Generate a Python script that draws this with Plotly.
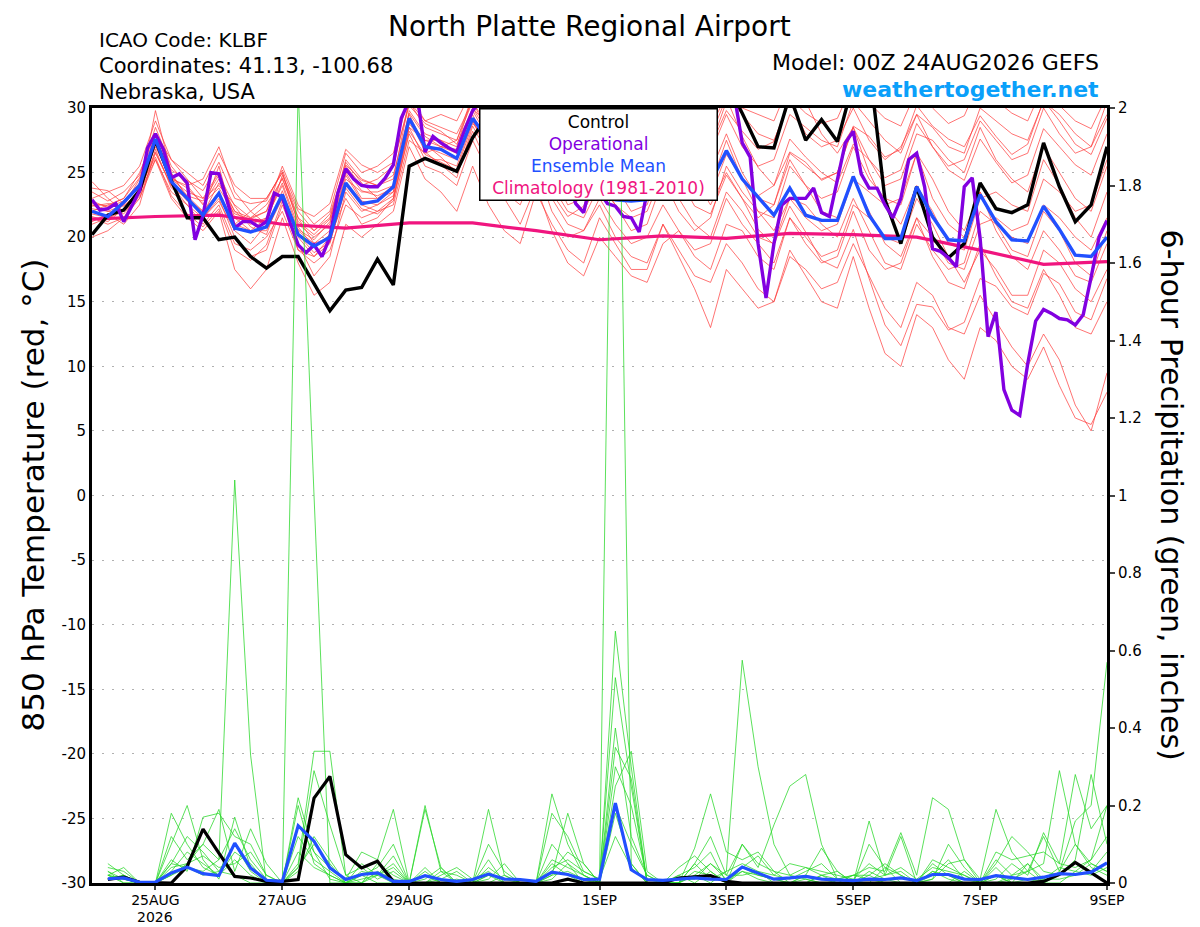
import pandas as pd
import plotly.graph_objects as go

# --- time axes -------------------------------------------------------------
start = "2026-08-24 00:00"
times_6h = pd.date_range(start, periods=65, freq="6h")
precip_times = times_6h[1:]
op_times = pd.date_range(start, periods=129, freq="3h")
clim_times = pd.date_range(start, periods=17, freq="D")

tick_dates = ["2026-08-25", "2026-08-27", "2026-08-29", "2026-09-01",
              "2026-09-03", "2026-09-05", "2026-09-07", "2026-09-09"]
tick_labels = ["25AUG", "27AUG", "29AUG", "1SEP",
               "3SEP", "5SEP", "7SEP", "9SEP"]
year_label = "2026"
temp_ticks = [-30, -25, -20, -15, -10, -5, 0, 5, 10, 15, 20, 25, 30]

# --- 850 hPa temperature (C), 6-hourly ---------------------------------------
control_temp = [20.2, 21.7, 22.1, 23.6, 27.5,
                24.4, 21.5, 21.5, 19.8, 20.0, 18.5, 17.6, 18.5,
                18.5, 16.4, 14.3, 15.9, 16.1, 18.3, 16.3, 25.5,
                26.1, 25.6, 25.1, 27.7, 29.5, 30.5, 31.0, 32.0,
                31.5, 31.0, 30.5, 31.0, 30.5, 30.0, 30.5, 31.5,
                31.0, 30.5, 31.0, 32.0, 29.6, 27.0, 26.9, 31.0,
                27.5, 29.1, 27.4, 32.0, 33.5, 22.9, 19.5, 23.9,
                20.0, 18.4, 19.5, 24.2, 22.2, 21.9, 22.5, 27.3,
                23.9, 21.2, 22.5, 27.0]

mean_temp = [22.0, 21.6, 22.7, 24.0, 27.6,
             24.3, 23.0, 21.7, 23.4, 20.7, 20.4, 20.8, 23.3,
             20.2, 19.3, 20.0, 24.2, 22.6, 22.8, 23.9, 29.2,
             27.0, 26.8, 26.1, 29.2, 27.5, 26.5, 25.5, 27.0,
             25.0, 23.5, 23.0, 23.3, 22.9, 22.8, 22.9, 24.5,
             25.0, 24.5, 24.2, 26.7, 24.5, 23.1, 21.7, 23.8,
             21.7, 21.3, 21.3, 24.7, 21.7, 19.9, 19.9, 23.9,
             21.6, 19.8, 19.7, 23.3, 21.2, 19.8, 19.7, 22.4,
             20.6, 18.6, 18.5, 20.0]

# operational run, 3-hourly
oper_temp = [22.9, 22.1, 22.2, 22.6, 21.2, 22.4, 23.6, 26.9, 28.0, 26.8,
             24.6, 24.9, 24.2, 19.8, 21.7, 25.0, 24.9, 22.9, 20.7, 21.2,
             21.2, 20.8, 21.2, 23.4, 23.1, 21.1, 19.4, 18.8, 19.4, 18.5,
             20.0, 23.4, 25.3, 24.5, 24.0, 23.9, 23.9, 24.6, 25.6, 29.2,
             30.6, 31.0, 26.6, 27.8, 27.3, 26.9, 26.6, 28.3, 29.8,
             30.5, 31.0, 31.5, 31.0, 30.0, 29.0, 28.5, 29.0, 28.0, 27.0,
             26.0, 24.5, 22.6, 21.9, 24.5, 23.5, 22.6, 22.4, 21.6, 21.5,
             20.4, 23.5, 25.0, 26.5, 28.0, 29.0, 29.5, 30.5, 31.0, 31.5,
             31.5, 31.5, 31.0, 27.3, 26.2, 19.5, 15.3, 19.5, 22.5, 23.0,
             23.0, 23.0, 23.8, 21.9, 21.6, 24.4, 27.3, 28.2, 24.9, 23.8,
             23.8, 22.5, 21.5, 23.0, 26.0, 26.5, 23.9, 19.1, 18.9, 18.4,
             17.7, 23.9, 24.6, 19.9, 12.3, 14.2, 8.2, 6.6, 6.2, 10.2,
             13.5, 14.4, 14.1, 13.7, 13.6, 13.2, 14.0, 16.9, 20.0, 21.3]

# climatology (1981-2010), daily
clim_temp = [21.4, 21.6, 21.7, 21.0, 20.7, 21.1, 21.1, 20.5, 19.8,
             20.1, 19.9, 20.3, 20.2, 20.0, 19.0, 17.9, 18.1]

# ensemble members
t_m01 = [23.5, 22.8, 23.5, 24.8, 28.5, 25.5, 24.0, 22.5, 24.5, 22.0, 21.5, 22.5, 24.5,
         21.5, 20.5, 21.8, 25.5, 24.0, 24.5, 25.5, 30.5, 28.5, 28.0, 27.5, 31.0,
         29.5, 29.0, 28.5, 31.5, 28.0, 26.5, 27.0, 29.0, 28.5, 27.5, 28.0, 30.5,
         29.0, 28.0, 28.5, 31.0, 29.5, 28.0, 27.5, 30.5, 28.0, 27.0, 27.5, 30.0,
         27.5, 26.0, 27.0, 29.5, 27.0, 25.5, 26.0, 29.0, 27.5, 26.0, 26.5, 30.0,
         28.0, 26.5, 27.0, 30.5]
t_m02 = [21.0, 21.5, 22.0, 23.0, 26.0, 23.5, 22.5, 21.0, 22.5, 19.5, 19.0, 20.0, 22.0,
         19.0, 18.0, 19.0, 22.5, 21.5, 22.0, 23.0, 28.0, 25.5, 25.0, 24.0, 27.5,
         25.0, 23.5, 22.5, 25.5, 22.0, 20.0, 20.5, 23.0, 21.0, 19.5, 20.0, 22.5,
         20.5, 19.0, 19.5, 23.0, 21.0, 19.5, 18.0, 21.5, 19.5, 18.0, 18.5, 22.0,
         19.0, 17.5, 18.0, 21.5, 18.5, 16.5, 16.0, 19.5, 17.0, 15.0, 14.5, 17.5,
         15.5, 13.0, 12.5, 15.0]
t_m03 = [22.5, 22.0, 22.5, 24.5, 27.5, 24.5, 23.5, 23.0, 25.0, 21.5, 20.5, 21.5, 24.0,
         20.5, 19.5, 20.5, 25.0, 23.0, 23.0, 24.0, 29.5, 27.0, 26.5, 26.0, 29.5,
         27.0, 26.0, 25.0, 28.0, 24.0, 22.0, 21.5, 24.0, 22.5, 20.5, 21.0, 24.5,
         22.0, 20.5, 21.5, 25.5, 23.5, 22.0, 21.5, 25.5, 24.0, 23.0, 23.5, 27.0,
         24.5, 23.0, 22.5, 26.5, 23.0, 21.0, 20.0, 23.5, 20.5, 18.5, 17.5, 20.5,
         19.0, 17.0, 16.5, 19.5]
t_m04 = [21.5, 21.0, 21.5, 23.0, 26.5, 24.0, 22.5, 21.5, 23.0, 20.0, 18.5, 19.0, 22.5,
         19.5, 17.0, 18.5, 23.5, 22.0, 22.5, 23.5, 28.5, 26.0, 26.0, 25.5, 29.0,
         27.0, 25.5, 24.0, 26.5, 23.0, 21.0, 20.5, 22.5, 20.0, 18.5, 18.0, 21.0,
         19.0, 17.0, 16.5, 19.5, 18.0, 16.0, 15.0, 18.5, 17.5, 16.0, 16.5, 19.5,
         17.0, 14.5, 13.0, 16.5, 15.5, 13.0, 12.5, 15.5, 13.5, 11.5, 10.0, 12.5,
         10.5, 7.0, 5.0, 9.5]
t_m05 = [20.0, 20.5, 21.5, 23.5, 29.8, 25.0, 23.0, 22.0, 25.5, 21.0, 22.0, 23.0, 25.0,
         21.0, 20.0, 21.0, 26.0, 24.5, 24.0, 24.5, 30.5, 29.0, 29.5, 29.0, 31.5,
         30.5, 30.0, 29.5, 32.0, 30.5, 29.0, 29.5, 31.5, 30.0, 28.5, 27.5, 29.5,
         27.0, 25.5, 25.0, 28.0, 25.0, 23.0, 22.5, 26.0, 24.0, 22.0, 21.5, 24.5,
         22.0, 19.5, 18.5, 21.5, 20.0, 18.0, 17.5, 21.0, 21.5, 20.5, 21.0, 24.5,
         23.5, 22.0, 22.5, 26.0]
t_m06 = [24.3, 23.0, 22.0, 23.5, 26.0, 23.0, 21.5, 20.5, 22.0, 17.5, 16.0, 17.5, 21.5,
         18.0, 15.5, 16.5, 21.0, 20.0, 21.0, 22.0, 27.0, 24.5, 23.5, 22.0, 25.5,
         22.5, 20.5, 19.5, 23.5, 21.0, 19.0, 18.0, 21.5, 19.5, 17.5, 17.5, 21.0,
         18.5, 16.0, 13.0, 17.5, 16.0, 14.5, 15.0, 19.0, 17.0, 15.0, 14.5, 18.5,
         14.5, 11.0, 10.0, 14.0, 13.0, 10.5, 9.0, 13.0, 12.0, 10.0, 9.0, 11.5,
         8.5, 6.0, 5.5, 8.0]
t_m07 = [22.0, 22.5, 23.0, 25.0, 28.0, 26.0, 24.5, 23.0, 24.0, 22.5, 21.5, 22.0, 25.5,
         22.5, 21.0, 22.0, 26.5, 25.0, 25.5, 26.5, 31.0, 29.0, 28.5, 28.0, 30.5,
         28.0, 27.0, 26.0, 29.0, 26.5, 25.0, 24.0, 26.5, 25.0, 24.0, 25.5, 28.5,
         27.0, 26.0, 27.0, 30.5, 30.0, 29.5, 29.0, 32.0, 30.5, 28.0, 26.5, 28.5,
         26.0, 24.0, 24.5, 28.0, 27.5, 26.0, 25.0, 28.5, 26.0, 24.5, 23.5, 27.0,
         25.0, 23.0, 22.0, 25.5]
t_m08 = [21.8, 21.5, 22.5, 24.0, 27.0, 24.5, 24.0, 24.5, 27.0, 23.5, 22.0, 21.0, 23.0,
         20.0, 18.5, 19.5, 24.0, 22.5, 22.0, 22.5, 27.5, 26.5, 27.0, 27.5, 30.5,
         28.5, 27.5, 27.0, 30.0, 27.0, 25.5, 24.5, 27.5, 24.0, 22.0, 22.5, 26.0,
         24.5, 23.5, 24.0, 27.5, 24.5, 22.0, 20.5, 23.0, 21.5, 20.5, 21.0, 24.5,
         23.5, 22.5, 23.0, 26.5, 24.5, 22.0, 20.5, 23.5, 21.0, 19.0, 18.5, 22.0,
         20.5, 18.0, 17.0, 20.5]
t_m09 = [22.8, 22.3, 22.8, 24.2, 27.8, 24.8, 23.2, 22.0, 23.5, 21.0, 20.5, 20.5, 23.0,
         19.0, 18.5, 20.0, 24.5, 23.5, 23.5, 24.0, 29.0, 27.5, 27.0, 26.5, 30.0,
         28.0, 27.0, 26.5, 29.5, 26.0, 23.5, 22.0, 24.5, 22.5, 21.5, 22.0, 25.0,
         23.0, 21.0, 20.0, 23.5, 22.0, 20.0, 19.5, 23.0, 22.5, 21.0, 20.0, 23.0,
         20.5, 18.0, 17.5, 21.0, 19.0, 17.5, 18.0, 22.0, 21.0, 20.0, 19.5, 22.5,
         21.5, 20.0, 19.0, 21.5]
t_m10 = [23.0, 23.5, 24.0, 25.5, 29.0, 26.0, 25.0, 24.0, 26.5, 24.0, 23.0, 23.0, 25.0,
         21.5, 19.5, 20.0, 23.0, 21.0, 21.5, 23.0, 28.5, 27.5, 27.5, 27.0, 31.0,
         30.0, 29.5, 28.5, 31.0, 29.0, 27.5, 28.0, 30.5, 29.5, 28.5, 28.0, 30.5,
         28.5, 27.0, 26.5, 29.5, 27.0, 25.5, 26.0, 29.5, 28.5, 27.5, 27.0, 30.5,
         29.0, 27.5, 26.5, 29.5, 28.5, 27.0, 26.5, 30.0, 29.0, 28.0, 27.5, 30.5,
         29.5, 28.0, 27.0, 29.5]
t_m11 = [21.2, 21.8, 21.0, 22.5, 26.8, 23.8, 23.0, 21.5, 22.8, 20.5, 19.5, 21.0, 24.8,
         22.0, 20.5, 21.5, 25.8, 24.2, 23.0, 23.5, 29.8, 28.0, 27.5, 26.5, 29.0,
         26.5, 24.5, 23.5, 27.0, 25.0, 22.5, 23.0, 26.5, 26.0, 25.5, 26.5, 29.5,
         26.5, 24.5, 22.5, 25.0, 23.0, 21.5, 22.5, 26.5, 25.5, 24.5, 25.0, 28.5,
         25.0, 22.5, 21.0, 24.0, 22.0, 19.5, 19.0, 23.0, 23.5, 22.5, 22.0, 26.0,
         24.0, 21.5, 20.0, 23.5]
t_m12 = [22.2, 22.0, 21.8, 23.2, 27.2, 24.2, 22.8, 21.8, 24.2, 22.0, 21.0, 21.5, 24.2,
         20.8, 19.2, 20.2, 24.8, 22.8, 22.5, 23.2, 28.8, 27.2, 26.2, 25.0, 28.2,
         25.5, 23.0, 21.0, 24.0, 20.5, 18.0, 17.0, 20.0, 18.5, 17.0, 16.5, 19.5,
         20.5, 18.5, 17.5, 21.0, 20.5, 18.5, 17.5, 21.5, 20.0, 18.5, 19.0, 22.5,
         21.5, 20.0, 19.5, 23.0, 21.0, 18.5, 16.5, 19.0, 17.5, 15.5, 15.5, 19.0,
         18.0, 16.0, 15.0, 17.5]
t_m13 = [22.6, 22.4, 23.0, 24.6, 27.9, 25.2, 24.4, 23.6, 25.8, 23.0, 22.6, 22.8, 25.2,
         22.2, 21.6, 22.6, 26.8, 25.6, 25.0, 25.8, 30.2, 28.8, 28.2, 27.2, 30.0,
         28.6, 27.8, 27.4, 30.6, 29.2, 28.4, 28.8, 31.2, 30.2, 29.4, 29.0, 31.6,
         29.4, 27.6, 27.0, 29.8, 28.2, 26.8, 27.4, 30.8, 29.6, 28.8, 29.2, 32.0,
         30.4, 29.2, 28.6, 31.4, 30.0, 28.8, 29.4, 32.2, 30.6, 29.6, 29.0, 31.8,
         30.2, 29.0, 28.4, 31.0]
t_m14 = [21.6, 21.2, 22.2, 23.8, 26.2, 23.2, 21.8, 20.8, 22.2, 19.0, 18.2, 19.4, 22.8,
         20.6, 19.8, 21.2, 25.2, 23.6, 23.2, 23.8, 29.2, 26.6, 25.6, 24.6, 28.6,
         26.4, 24.2, 22.8, 25.8, 23.4, 21.6, 22.4, 25.8, 24.4, 23.2, 23.8, 27.2,
         25.6, 23.8, 23.2, 26.4, 24.6, 23.2, 24.0, 27.6, 26.2, 25.0, 24.2, 27.2,
         26.0, 24.6, 25.2, 28.8, 27.0, 25.2, 24.4, 27.6, 25.8, 24.2, 24.8, 28.4,
         27.0, 25.6, 24.8, 28.0]
t_m15 = [23.8, 23.6, 22.6, 24.0, 27.4, 24.6, 23.8, 22.6, 23.8, 21.8, 21.4, 22.0, 24.6,
         21.2, 20.2, 21.4, 25.6, 24.4, 24.0, 24.8, 29.6, 27.8, 27.0, 26.8, 29.8,
         27.6, 26.2, 25.6, 28.6, 26.2, 24.8, 25.6, 28.4, 26.8, 25.0, 24.4, 27.0,
         24.6, 22.4, 21.8, 24.8, 23.0, 20.6, 19.4, 22.4, 20.4, 18.2, 17.6, 20.6,
         16.8, 13.2, 11.6, 14.8, 14.6, 12.8, 13.4, 16.8, 16.2, 14.6, 14.0, 17.2,
         16.4, 14.2, 13.6, 16.8]
t_m16 = [22.4, 22.6, 22.4, 23.6, 26.6, 24.0, 23.2, 22.8, 24.8, 22.4, 20.8, 20.2, 23.6,
         20.2, 18.8, 19.6, 23.8, 22.2, 21.8, 22.8, 28.2, 26.4, 25.8, 25.2, 28.8,
         27.4, 26.6, 26.2, 29.4, 28.0, 26.8, 26.4, 28.8, 27.2, 26.0, 26.8, 29.8,
         28.4, 27.2, 27.8, 30.8, 27.8, 25.4, 24.0, 26.6, 25.8, 24.4, 25.0, 28.6,
         27.8, 26.2, 26.8, 30.2, 28.6, 27.6, 27.0, 29.4, 27.8, 26.4, 27.2, 30.6,
         29.0, 27.2, 26.4, 29.2]

# --- 6-hour precipitation (inches), valid 06Z 24AUG onward ------------------
control_precip = [0.009, 0.015, 0.002, 0.0, 0.0, 0.043, 0.139, 0.077,
                  0.017, 0.013, 0.004, 0.004, 0.009, 0.219, 0.275, 0.073,
                  0.039, 0.056, 0.004, 0.0, 0.0, 0.0, 0.0, 0.0,
                  0.0, 0.0, 0.0, 0.0, 0.0, 0.010, 0.0, 0.0,
                  0.0, 0.0, 0.0, 0.0, 0.013, 0.017, 0.019, 0.004,
                  0.0, 0.0, 0.0, 0.0, 0.0, 0.0, 0.0, 0.0,
                  0.0, 0.0, 0.0, 0.0, 0.0, 0.0, 0.0, 0.0,
                  0.0, 0.0, 0.0, 0.004, 0.022, 0.053, 0.026, 0.0]
mean_precip = [0.011, 0.013, 0.002, 0.002, 0.026, 0.041, 0.024, 0.019,
               0.103, 0.039, 0.007, 0.004, 0.148, 0.108, 0.039, 0.009,
               0.022, 0.026, 0.004, 0.004, 0.019, 0.009, 0.004, 0.009,
               0.023, 0.010, 0.009, 0.004, 0.028, 0.022, 0.009, 0.010,
               0.206, 0.034, 0.009, 0.007, 0.010, 0.013, 0.010, 0.009,
               0.041, 0.026, 0.010, 0.013, 0.017, 0.010, 0.009, 0.006,
               0.010, 0.009, 0.013, 0.006, 0.022, 0.022, 0.010, 0.009,
               0.019, 0.013, 0.009, 0.015, 0.024, 0.022, 0.028, 0.052]

p_m01 = [0.02, 0.01, 0, 0, 0.05, 0.12, 0.08, 0.03, 0.02, 0, 0, 0, 2.05, 1.0, 0, 0,
         0, 0.03, 0.01, 0, 0, 0.01, 0, 0, 0.02, 0, 0, 0, 0.05, 0.02, 0, 0.01,
         0.12, 0.04, 0, 0, 0, 0.02, 0.05, 0.01, 0.03, 0.01, 0, 0, 0.01, 0, 0, 0,
         0.02, 0, 0, 0, 0.05, 0.02, 0, 0, 0, 0.01, 0.03, 0, 0.02, 0.05, 0.03, 0.08]
p_m02 = [0.04, 0.03, 0, 0, 0.02, 0.05, 0.1, 0.06, 1.04, 0.33, 0, 0, 0.04, 0.1, 0.05, 0,
         0.02, 0, 0, 0, 0, 0.03, 0.02, 0, 0, 0, 0, 0, 0.01, 0.05, 0.02, 0,
         0.18, 0.05, 0, 0, 0, 0.03, 0.02, 0, 0.04, 0.02, 0.01, 0, 0, 0.02, 0, 0,
         0.03, 0.01, 0, 0, 0, 0, 0.03, 0, 0.02, 0, 0, 0.01, 0.04, 0.03, 0.06, 0.2]
p_m03 = [0.02, 0.01, 0, 0, 0.03, 0.08, 0.05, 0.02, 0.06, 0.02, 0, 0, 0.12, 0.06, 0.03, 0,
         0.03, 0.02, 0, 0, 0.02, 0, 0, 0, 0.04, 0.01, 0, 0, 0.02, 0.03, 0.01, 0,
         2.8, 0.05, 0, 0, 0, 0.02, 0, 0.03, 0.05, 0.03, 0, 0, 0.02, 0.01, 0, 0,
         0, 0.04, 0, 0, 0.02, 0.06, 0.01, 0, 0, 0.02, 0.05, 0, 0.03, 0.1, 0.04, 0.02]
p_m04 = [0.01, 0.02, 0, 0, 0.18, 0.1, 0.04, 0.02, 0.08, 0.05, 0, 0, 0.05, 0.34, 0.34, 0.02,
         0, 0.05, 0.02, 0, 0.03, 0, 0, 0, 0, 0.02, 0, 0, 0.1, 0.05, 0, 0,
         0.4, 0.12, 0.02, 0, 0, 0.05, 0.01, 0.03, 0.575, 0.3, 0.1, 0.02, 0.01, 0, 0, 0.02,
         0.01, 0, 0, 0, 0.03, 0.02, 0, 0, 0.04, 0, 0.01, 0, 0, 0.03, 0.02, 0.04]
p_m05 = [0.03, 0, 0, 0, 0.1, 0.2, 0.06, 0.01, 0.17, 0.04, 0, 0, 0.22, 0.08, 0.01, 0,
         0.05, 0.02, 0.07, 0, 0.2, 0.03, 0, 0, 0.19, 0.02, 0, 0, 0.23, 0.1, 0.02, 0,
         0.65, 0.3, 0, 0, 0.02, 0, 0.03, 0, 0.1, 0.04, 0.15, 0.25, 0.28, 0.1, 0.01, 0,
         0.16, 0.02, 0.12, 0, 0.03, 0.01, 0, 0, 0.02, 0, 0.05, 0.01, 0.01, 0.02, 0.05, 0.03]
p_m06 = [0.02, 0.04, 0, 0, 0.06, 0.03, 0.17, 0.18, 0.12, 0.1, 0.02, 0, 0.15, 0.08, 0.04, 0.01,
         0.08, 0.06, 0.19, 0, 0.01, 0.04, 0, 0, 0.06, 0, 0, 0, 0.18, 0.12, 0.03, 0.01,
         0.53, 0.25, 0, 0, 0, 0.09, 0.23, 0.08, 0.06, 0.08, 0.03, 0, 0, 0.02, 0.01, 0.02,
         0.04, 0.03, 0.13, 0.02, 0.22, 0.19, 0.06, 0, 0.06, 0.02, 0.03, 0.05, 0.29, 0.1, 0.05, 0.03]
p_m07 = [0.01, 0.02, 0, 0, 0.02, 0.04, 0.03, 0.06, 0.14, 0.06, 0.01, 0, 0.2, 0.05, 0.02, 0,
         0.02, 0.04, 0.1, 0, 0.19, 0.04, 0, 0, 0.01, 0.05, 0, 0, 0.06, 0.04, 0.02, 0,
         0.35, 0.27, 0, 0, 0.04, 0.07, 0.03, 0, 0.03, 0.02, 0.01, 0, 0.02, 0.09, 0.03, 0,
         0.01, 0.02, 0.03, 0, 0.01, 0.05, 0.06, 0.01, 0.19, 0.08, 0.03, 0.12, 0.03, 0.16, 0.2, 0.57]
p_m08 = [0.05, 0.02, 0, 0, 0.12, 0.06, 0.1, 0.19, 0.03, 0.14, 0.05, 0, 0.03, 0.12, 0.06, 0,
         0.01, 0.02, 0.05, 0, 0.02, 0.01, 0.03, 0, 0.1, 0.03, 0, 0, 0.02, 0.18, 0.05, 0,
         0.3, 0.2, 0.01, 0, 0.02, 0.04, 0.08, 0, 0.04, 0.07, 0.02, 0.01, 0.03, 0.05, 0.01, 0.02,
         0.02, 0.05, 0.02, 0, 0.06, 0.04, 0.02, 0, 0.08, 0.06, 0.07, 0.08, 0.05, 0.04, 0.06, 0.12]
p_m09 = [0.03, 0.01, 0, 0, 0.04, 0.05, 0.07, 0.04, 0.05, 0.08, 0.02, 0, 0.04, 0.29, 0.15, 0.02,
         0.04, 0.01, 0.03, 0, 0.04, 0, 0.01, 0, 0.02, 0.01, 0.01, 0, 0.03, 0.08, 0.05, 0,
         0.25, 0.34, 0.03, 0, 0.01, 0.01, 0.05, 0.02, 0.02, 0.03, 0.02, 0.05, 0.04, 0.02, 0.03, 0,
         0.1, 0.04, 0.02, 0, 0.01, 0.1, 0.04, 0, 0.05, 0.12, 0.08, 0.03, 0.02, 0.06, 0.28, 0.1]
p_m10 = [0.02, 0, 0, 0, 0.05, 0.04, 0.02, 0.03, 0.1, 0.03, 0, 0, 0.08, 0.04, 0.02, 0,
         0, 0.02, 0.04, 0, 0, 0.02, 0.04, 0.01, 0.03, 0, 0, 0, 0.04, 0.06, 0.03, 0.01,
         0.2, 0.1, 0.02, 0, 0, 0.05, 0.12, 0.02, 0.1, 0.05, 0.03, 0.02, 0.04, 0.03, 0.02, 0.01,
         0.05, 0.02, 0.04, 0.01, 0.04, 0.03, 0.02, 0, 0.01, 0.05, 0.02, 0.13, 0.05, 0.28, 0.14, 0.2]

temp_members = [t_m01, t_m02, t_m03, t_m04, t_m05, t_m06, t_m07, t_m08,
                t_m09, t_m10, t_m11, t_m12, t_m13, t_m14, t_m15, t_m16]
precip_members = [p_m01, p_m02, p_m03, p_m04, p_m05,
                  p_m06, p_m07, p_m08, p_m09, p_m10]

RED = "rgba(255,60,60,0.8)"
GREEN = "rgba(40,215,40,0.85)"
PURPLE = "#8200e0"
BLUE = "#2150ff"
PINK = "#f0157f"
FONT = "DejaVu Sans"

fig = go.Figure()

for member in temp_members:
    fig.add_trace(go.Scatter(x=times_6h, y=member, mode="lines",
                             line=dict(color=RED, width=0.9), yaxis="y"))

for member in precip_members:
    fig.add_trace(go.Scatter(x=precip_times, y=member, mode="lines",
                             line=dict(color=GREEN, width=0.9), yaxis="y2"))

fig.add_trace(go.Scatter(x=clim_times, y=clim_temp, mode="lines",
                         line=dict(color=PINK, width=3.2), yaxis="y"))
fig.add_trace(go.Scatter(x=precip_times, y=control_precip, mode="lines",
                         line=dict(color="black", width=3.2), yaxis="y2"))
fig.add_trace(go.Scatter(x=precip_times, y=mean_precip, mode="lines",
                         line=dict(color=BLUE, width=3.2), yaxis="y2"))
fig.add_trace(go.Scatter(x=times_6h, y=control_temp, mode="lines",
                         line=dict(color="black", width=3.4), yaxis="y"))
fig.add_trace(go.Scatter(x=op_times, y=oper_temp, mode="lines",
                         line=dict(color=PURPLE, width=3.4), yaxis="y"))
fig.add_trace(go.Scatter(x=times_6h, y=mean_temp, mode="lines",
                         line=dict(color=BLUE, width=3.4), yaxis="y"))

# the page body adds an 8px offset, so the figure is 8px smaller each way
fig.update_layout(
    width=1192,
    height=919,
    margin=dict(l=84, r=93, t=100, b=44),
    plot_bgcolor="white",
    paper_bgcolor="white",
    showlegend=False,
    font=dict(family=FONT, color="black", size=15),
    xaxis=dict(
        type="date",
        range=[times_6h[0], times_6h[-1]],
        tickvals=tick_dates,
        ticktext=tick_labels,
        ticks="outside",
        ticklen=4,
        tickwidth=1.5,
        ticklabelstandoff=-2,
        showgrid=False,
        showline=True,
        linewidth=3,
        linecolor="black",
        mirror=True,
        automargin=False,
        tickfont=dict(size=14),
    ),
    yaxis=dict(
        range=[-30, 30],
        tickvals=temp_ticks,
        ticktext=[str(t) for t in temp_ticks],
        ticks="",
        showgrid=True,
        gridcolor="#b0b0b0",
        gridwidth=1,
        griddash="2px,8px",
        zeroline=False,
        showline=True,
        linewidth=3,
        linecolor="black",
        mirror=True,
        automargin=False,
        tickfont=dict(size=15),
    ),
    yaxis2=dict(
        overlaying="y",
        side="right",
        range=[0, 2],
        dtick=0.2,
        ticks="outside",
        ticklen=5,
        tickwidth=1.5,
        showgrid=False,
        zeroline=False,
        showline=True,
        linewidth=3,
        linecolor="black",
        automargin=False,
        tickfont=dict(size=15),
    ),
)

legend_text = (
    "Control<br>"
    f"<span style='color:{PURPLE}'>Operational</span><br>"
    f"<span style='color:{BLUE}'>Ensemble Mean</span><br>"
    f"<span style='color:{PINK}'>Climatology (1981-2010)</span>"
)

annotations = [
    dict(text=legend_text, x=0.4995, y=1.0, xanchor="center", yanchor="top",
         font=dict(size=17), bgcolor="white", bordercolor="black",
         borderwidth=1.5, borderpad=2, width=232, align="center"),
    dict(text="North Platte Regional Airport", x=0.4906, y=1.1290,
         xanchor="center", yanchor="top", font=dict(size=28)),
    dict(text="ICAO Code: KLBF", x=0.005, y=1.0877, xanchor="left",
         yanchor="middle", font=dict(size=20)),
    dict(text="Coordinates: 41.13, -100.68", x=0.005, y=1.0542,
         xanchor="left", yanchor="middle", font=dict(size=21)),
    dict(text="Nebraska, USA", x=0.005, y=1.0206, xanchor="left",
         yanchor="middle", font=dict(size=21)),
    dict(text="Model: 00Z 24AUG2026 GEFS", x=0.9941, y=1.0581,
         xanchor="right", yanchor="middle", font=dict(size=22)),
    dict(text="<b>weathertogether.net</b>", x=0.9941, y=1.0245,
         xanchor="right", yanchor="middle",
         font=dict(size=22, color="#0aa0fa")),
    dict(text="850 hPa Temperature (red, °C)", x=-0.0591, y=0.5,
         xanchor="center", yanchor="middle", textangle=-90,
         font=dict(size=31)),
    dict(text="6-hour Precipitation (green, inches)", x=1.064, y=0.5,
         xanchor="center", yanchor="middle", textangle=90,
         font=dict(size=30)),
]
for ann in annotations:
    fig.add_annotation(xref="paper", yref="paper", showarrow=False, **ann)

# year under the first date label
fig.add_annotation(text=year_label, x=tick_dates[0], xref="x", y=-0.0435,
                   yref="paper", xanchor="center", yanchor="middle",
                   showarrow=False, font=dict(size=14))

fig.write_html("out.html")
